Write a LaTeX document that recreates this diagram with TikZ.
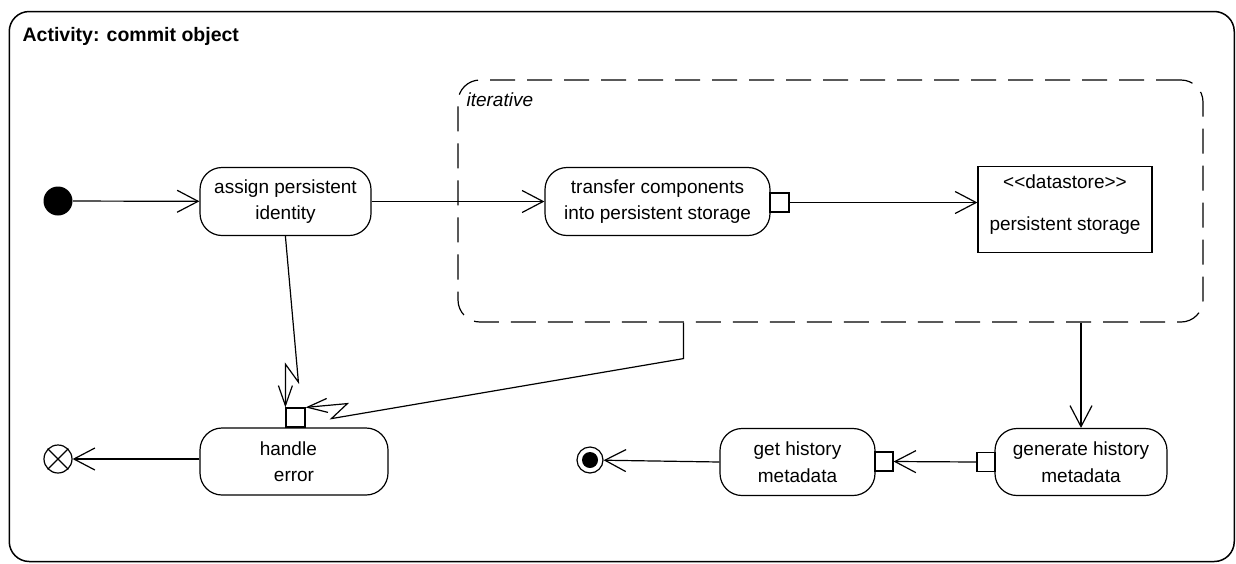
\documentclass[tikz,border=0pt]{standalone}
\usepackage{fontspec}
\setmainfont{Liberation Sans}
\usetikzlibrary{arrows.meta,calc}
\begin{document}
\begin{tikzpicture}[x=1pt,y=-1pt,line width=1.2pt,
  flow/.style={draw,-{Straight Barb[length=21pt,width=22pt]}},
  intr/.style={draw,-{Straight Barb[length=20pt,width=14pt]}},
  action/.style={draw,rectangle,rounded corners=22pt,align=center,inner sep=0pt,
    font=\fontsize{19}{26.5}\selectfont},
  pinbox/.style={draw,rectangle,minimum width=19pt,minimum height=19pt,inner sep=0pt,fill=white},
  region/.style={draw,dashed,dash pattern=on 25pt off 12pt,rounded corners=22pt,rectangle,inner sep=0pt},
  txt/.style={font=\fontsize{19}{26.5}\selectfont,inner sep=0pt}
]
\useasboundingbox (0,0) rectangle (1236,563);
% frame
\node[draw,rectangle,rounded corners=20pt,line width=1.5pt,minimum width=1225pt,minimum height=550pt,inner sep=0pt] (frame) at (621.75,286.5) {};
\node[anchor=base west,inner sep=0pt,font=\fontsize{19.5}{22}\selectfont\bfseries] (title) at (22,41) {Activity: commit object};
% iterative region
\node[region,minimum width=745pt,minimum height=242pt] (iter) at (830.5,201) {};
\node[anchor=base west,inner sep=0pt,font=\fontsize{19}{22}\selectfont\itshape] (iterlbl) at (466,106) {iterative};
% nodes
\node[circle,fill=black,minimum size=29pt,inner sep=0pt] (init) at (58,201) {};
\node[action,minimum width=171pt,minimum height=68pt] (assign) at (285.5,201.5) {assign persistent\\identity};
\node[action,minimum width=225pt,minimum height=68pt] (transfer) at (657.5,201.5) {transfer components\\into persistent storage};
\node[pinbox] (pinT) at (779.5,202.5) {};
\node[draw,rectangle,minimum width=174pt,minimum height=86pt,inner sep=0pt] (ds) at (1065,209.5) {};
\node[txt,anchor=base] (dsst) at (1065,188) {<{}<datastore>{}>};
\node[txt,anchor=base] (dsname) at (1065,230) {persistent storage};
\node[action,minimum width=172pt,minimum height=67pt] (gen) at (1081,462) {generate history\\metadata};
\node[pinbox,minimum width=18pt] (pinG) at (986,462) {};
\node[action,minimum width=155pt,minimum height=67pt] (get) at (797.5,462) {get history\\metadata};
\node[pinbox,minimum width=18pt] (pinGet) at (884,461.5) {};
\node[circle,draw,minimum size=26pt,inner sep=0pt,
  path picture={\fill (path picture bounding box.center) circle (8pt);}] (fin) at (590,460) {};
\node[action,minimum width=188pt,minimum height=67pt] (handle) at (294,461.5) {handle\hspace*{0.6em}\\error};
\node[pinbox] (pinH) at (295.5,417.5) {};
\node[circle,draw,minimum size=28pt,inner sep=0pt] (ff) at (58,459) {};
\draw (ff.north west) -- (ff.south east) (ff.north east) -- (ff.south west);
% connectors
\draw[flow] (init) -- (assign);
\draw[flow] (assign) -- (transfer);
\draw[flow] (pinT.east) -- (pinT.east -| ds.west);
\draw[flow] (gen.north |- iter.south) -- (gen.north);
\draw[flow] (pinG.west) -- (pinGet.east);
\draw[flow] (get.west) -- (fin);
\draw[flow] (handle.west |- ff) -- (ff);
\draw[intr] (pinH.north west |- assign.south) -- ++(13,146) -- ++(-13,-18) -- (pinH.north west);
\draw[intr] ($(iter.south west)+(226,0)$) -- ++(0,36) -- ++(-352,60) -- ++(16,-15) -- (pinH.north east);
\end{tikzpicture}
\end{document}
